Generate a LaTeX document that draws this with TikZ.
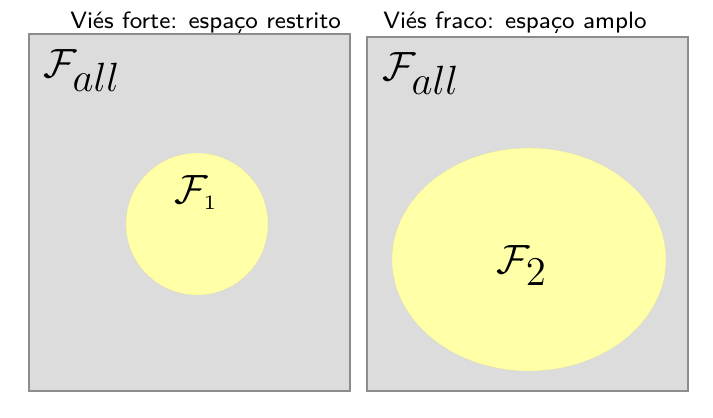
\documentclass[tikz,border=0pt]{standalone}
\usetikzlibrary{positioning,shapes.geometric}
\definecolor{boxgray}{RGB}{220,220,220}
\definecolor{edgegray}{RGB}{140,140,140}
\definecolor{setyellow}{RGB}{255,255,168}
\definecolor{setedge}{RGB}{215,215,150}
\newcommand{\biglabel}[1]{\scalebox{2.42}{$#1$}}
\newcommand{\bigtitle}[1]{\scalebox{2.1}{#1}}

\begin{document}
\begin{tikzpicture}[
        x=0.025cm, y=-0.025cm,
        space/.style={rectangle, draw=edgegray, line width=0.8pt, fill=boxgray,
            minimum width=8.025cm, inner sep=0pt},
        subset/.style={draw=setedge, densely dotted, line width=0.4pt, fill=setyellow, inner sep=0pt},
        heading/.style={font=\sffamily\fontsize{8}{10}\selectfont, inner sep=0pt},
        setlabel/.style={font=\fontsize{12}{14}\selectfont, inner sep=0pt},
    ]
        \useasboundingbox (0,0) rectangle (713,417);

        % left panel: strong bias
        \node (strongbox) [space, minimum height=8.925cm] at (189.5,212.5) {};
        \node (strongset) [subset, circle, minimum size=3.55cm] at (197,224) {};
        \node (strongtitle) [heading, anchor=base west] at (70,28) {\bigtitle{Viés forte: espaço restrito}};
        \node (strongall) [setlabel, anchor=base west] at (43,77) {\biglabel{\mathcal{F}_{\textstyle all}}};
        \node (strongname) [setlabel, anchor=base] at (196,203) {\biglabel{\mathcal{F}_{\scriptscriptstyle 1}}};

        % right panel: weak bias
        \node (weakbox) [space, minimum height=8.85cm] at (527.5,214) {};
        \node (weakset) [subset, ellipse, minimum width=6.85cm, minimum height=5.575cm] at (529,259.5) {};
        \node (weaktitle) [heading, anchor=base west] at (383,28) {\bigtitle{Viés fraco: espaço amplo}};
        \node (weakall) [setlabel, anchor=base west] at (382,80) {\biglabel{\mathcal{F}_{\textstyle all}}};
        \node (weakname) [setlabel, anchor=base] at (522,273) {\biglabel{\mathcal{F}_{\textstyle 2}}};
    \end{tikzpicture}
\end{document}
